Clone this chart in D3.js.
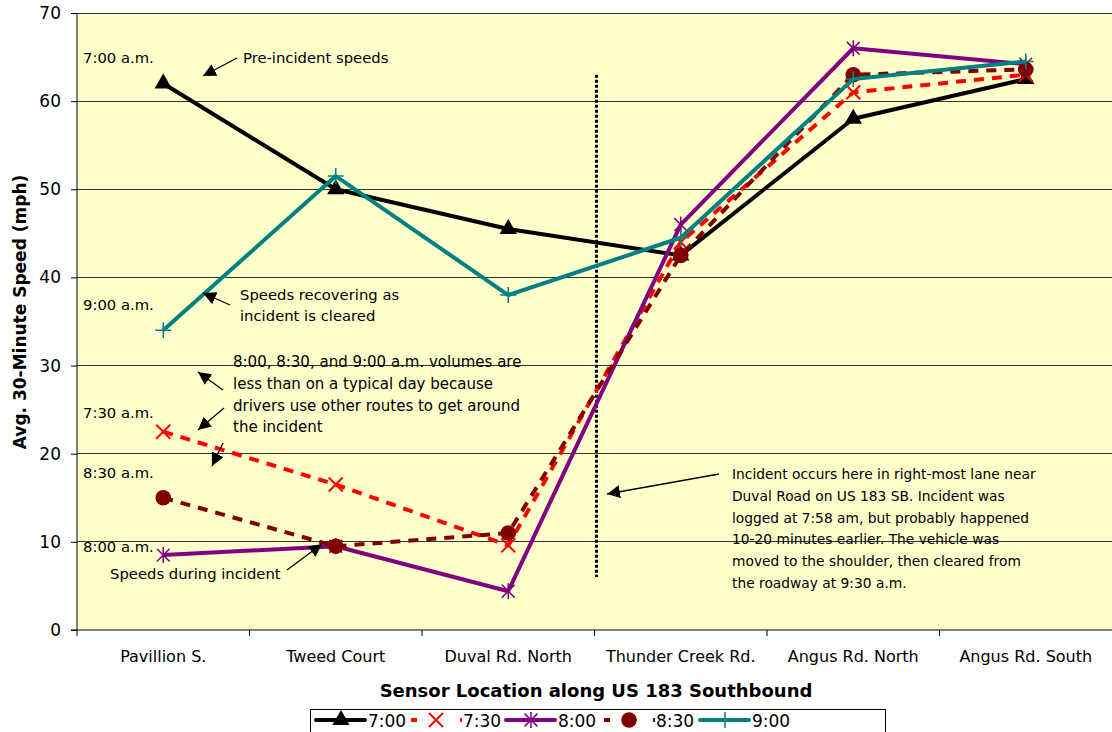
<!DOCTYPE html>
<html><head><meta charset="utf-8">
<script src="https://cdn.jsdelivr.net/npm/d3@7"></script>
<style>body{margin:0;background:#fff;} svg{display:block;font-family:"DejaVu Sans",Verdana,sans-serif;}</style>
</head><body>
<svg id="c" width="1112" height="732"></svg>
<script>
const categories = ["Pavillion S.","Tweed Court","Duval Rd. North","Thunder Creek Rd.","Angus Rd. North","Angus Rd. South"];
const s700 = [62, 50, 45.5, 42.5, 58, 62.5];
const s730 = [22.5, 16.5, 9.6, 44, 61, 63];
const s800 = [8.5, 9.5, 4.4, 46, 66, 64.2];
const s830 = [15, 9.5, 11, 42.5, 63, 63.6];
const s900 = [34, 51.5, 38, 44.5, 62.5, 64.5];
const seriesNames = ["7:00","7:30","8:00","8:30","9:00"];
const yTicks = [0,10,20,30,40,50,60,70];
const incidentSpan = [63, 6]; // speed range of dotted incident marker
const series = [
  {name:seriesNames[0], values:s700, color:"#000000", dash:null, marker:"triangle"},
  {name:seriesNames[1], values:s730, color:"#FF0000", dash:"10,8", marker:"x"},
  {name:seriesNames[2], values:s800, color:"#800080", dash:null, marker:"star"},
  {name:seriesNames[3], values:s830, color:"#800000", dash:"10,8", marker:"circle"},
  {name:seriesNames[4], values:s900, color:"#008080", dash:null, marker:"plus"}
];

const svg = d3.select("#c");
const L=77, R=1112, T=13, B=630;
const x = d3.scaleBand().domain(categories).range([L,R]);
const y = d3.scaleLinear().domain([0,70]).range([B,T]);

svg.append("rect").attr("x",L).attr("y",T).attr("width",R-L).attr("height",B-T).attr("fill","#FFFFCC");
// grid
svg.append("g").selectAll("line").data(yTicks.filter(d=>d>0)).join("line")
  .attr("x1",L).attr("x2",R).attr("y1",d=>y(d)).attr("y2",d=>y(d))
  .attr("stroke","#333").attr("stroke-width",1).attr("shape-rendering","crispEdges");

// axes
const ya = svg.append("g").attr("transform",`translate(${L},0)`)
  .call(d3.axisLeft(y).tickValues(yTicks).tickSize(6).tickPadding(10));
ya.select(".domain").attr("stroke","#000").attr("d",`M-0,${T}V${B}`);
ya.selectAll("text").attr("font-size",17).attr("font-family","DejaVu Sans").attr("fill","#000");
ya.selectAll("line").attr("stroke","#000");

const xa = svg.append("g").attr("transform",`translate(0,${B})`)
  .call(d3.axisBottom(x).tickSize(0).tickPadding(21));
xa.select(".domain").attr("stroke","#000").attr("d",`M${L-6},0H${R}`);
xa.selectAll("text").attr("font-size",16).attr("font-family","DejaVu Sans").attr("fill","#000");
// category boundary ticks
svg.append("g").selectAll("line").data(categories).join("line")
  .attr("x1",d=>x(d)).attr("x2",d=>x(d)).attr("y1",B).attr("y2",B+6).attr("stroke","#000");

// axis titles
svg.append("text").attr("transform","translate(26,312) rotate(-90)").attr("text-anchor","middle")
  .attr("font-weight","bold").attr("font-size",17).text("Avg. 30-Minute Speed (mph)");
svg.append("text").attr("x",596).attr("y",697).attr("text-anchor","middle")
  .attr("font-weight","bold").attr("font-size",18).text("Sensor Location along US 183 Southbound");

// incident dotted line
const xInc = x(categories[3]) + 2;
svg.append("line").attr("x1",xInc).attr("x2",xInc).attr("y1",y(incidentSpan[0])).attr("y2",y(incidentSpan[1]))
  .attr("stroke","#000").attr("stroke-width",3).attr("stroke-dasharray","3,2");

function cx(i){return x(categories[i]) + x.bandwidth()/2;}
function drawMarker(g, type, color, px, py, s){
  s = s||1;
  if(type==="triangle"){
    g.append("path").attr("d",d3.symbol(d3.symbolTriangle, 130*s*s)()).attr("transform",`translate(${px},${py})`).attr("fill",color);
  } else if(type==="x"){
    const r=7*s;
    g.append("path").attr("d",`M${px-r},${py-r}L${px+r},${py+r}M${px-r},${py+r}L${px+r},${py-r}`).attr("stroke",color).attr("stroke-width",2).attr("fill","none");
  } else if(type==="star"){
    const r=8*s;
    g.append("path").attr("d",`M${px-r*0.8},${py-r*0.8}L${px+r*0.8},${py+r*0.8}M${px-r*0.8},${py+r*0.8}L${px+r*0.8},${py-r*0.8}M${px},${py-r}L${px},${py+r}`).attr("stroke",color).attr("stroke-width",1.5).attr("fill","none");
  } else if(type==="circle"){
    g.append("circle").attr("cx",px).attr("cy",py).attr("r",7.8*s).attr("fill",color);
  } else if(type==="plus"){
    const r=8*s;
    g.append("path").attr("d",`M${px-r},${py}L${px+r},${py}M${px},${py-r}L${px},${py+r}`).attr("stroke",color).attr("stroke-width",1.5).attr("fill","none");
  }
}

const line = d3.line().x((d,i)=>cx(i)).y(d=>y(d));
series.forEach(s=>{
  const g = svg.append("g");
  g.append("path").attr("d",line(s.values)).attr("fill","none").attr("stroke",s.color)
    .attr("stroke-width",4).attr("stroke-dasharray",s.dash).attr("stroke-linejoin","round");
  s.values.forEach((v,i)=>drawMarker(g,s.marker,s.color,cx(i),y(v)));
});

// annotations
const ann = svg.append("g").attr("font-size",14.8).attr("fill","#000");
function txt(xp,yp,lines,lh,fs){lines.forEach((t,k)=>{const e=ann.append("text").attr("x",xp).attr("y",yp+k*(lh||22)).text(t); if(fs) e.attr("font-size",fs);});}
txt(83,63,["7:00 a.m."]);
txt(243,63,["Pre-incident speeds"]);
txt(83,310,["9:00 a.m."]);
txt(240,300,["Speeds recovering as","incident is cleared"],20.5);
txt(233,367,["8:00, 8:30, and 9:00 a.m. volumes are","less than on a typical day because","drivers use other routes to get around","the incident"],21.8,15);
txt(83,418,["7:30 a.m."]);
txt(83,478,["8:30 a.m."]);
txt(83,552,["8:00 a.m."]);
txt(110,579,["Speeds during incident"]);
txt(732,479,["Incident occurs here in right-most lane near","Duval Road on US 183 SB. Incident was","logged at 7:58 am, but probably happened","10-20 minutes earlier.  The vehicle was","moved to the shoulder, then cleared from","the roadway at 9:30 a.m."],21.8,13.8);

svg.append("defs").append("marker").attr("id","ah").attr("viewBox","0 0 10 10").attr("refX",10).attr("refY",5)
  .attr("markerWidth",13).attr("markerHeight",13).attr("markerUnits","userSpaceOnUse").attr("orient","auto")
  .append("path").attr("d","M0,0L10,5L0,10z").attr("fill","#000");
const arrows = [[237,58,203,76],[230,305,203,293],[223,390,198,372],[224,408,198,430],[223,443,212,466],[287,570,322,544],[719,474,607,494]];
svg.append("g").selectAll("line").data(arrows).join("line")
  .attr("x1",d=>d[0]).attr("y1",d=>d[1]).attr("x2",d=>d[2]).attr("y2",d=>d[3])
  .attr("stroke","#000").attr("stroke-width",1.3).attr("marker-end","url(#ah)");

// legend
const lg = svg.append("g");
lg.append("rect").attr("x",310.5).attr("y",709.5).attr("width",575).attr("height",30).attr("fill","#fff").attr("stroke","#000");
const legX = [316,411,506,604,700];
series.forEach((s,k)=>{
  const x0=legX[k], ly=720;
  if(s.dash){
    lg.append("line").attr("x1",x0).attr("x2",x0+6).attr("y1",ly).attr("y2",ly).attr("stroke",s.color).attr("stroke-width",4);
    lg.append("line").attr("x1",x0+49).attr("x2",x0+51).attr("y1",ly).attr("y2",ly).attr("stroke",s.color).attr("stroke-width",4);
  } else {
    lg.append("line").attr("x1",x0).attr("x2",x0+49).attr("y1",ly).attr("y2",ly).attr("stroke",s.color).attr("stroke-width",4).attr("stroke-linecap","round");
  }
  drawMarker(lg,s.marker,s.color,x0+25,ly);
  lg.append("text").attr("x",x0+52).attr("y",ly+7).attr("font-size",17).text(s.name);
});
</script>
</body></html>
